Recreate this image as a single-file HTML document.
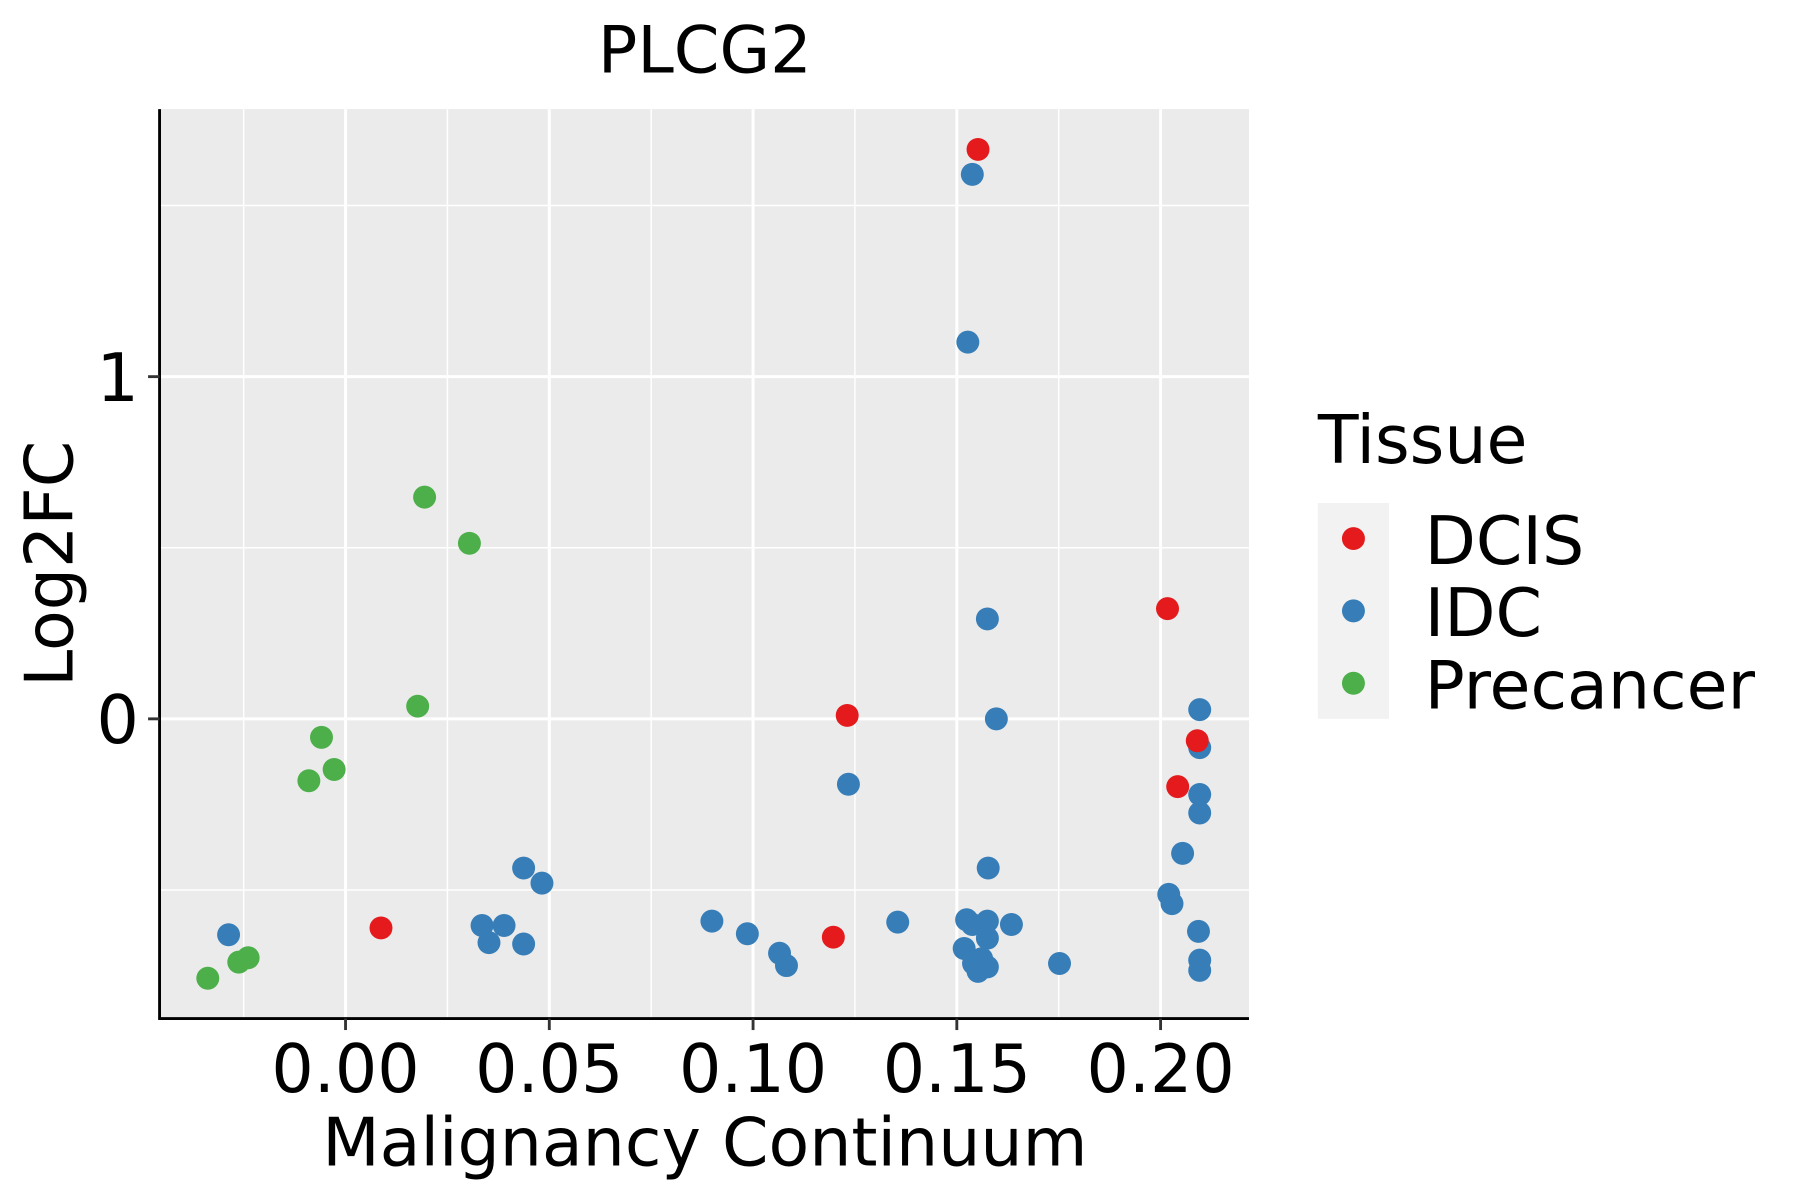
<!DOCTYPE html>
<html><head><meta charset="utf-8"><style>
html,body{margin:0;padding:0;background:#fff;}
svg{display:block;font-family:"DejaVu Sans","Liberation Sans",sans-serif;}
</style></head><body>
<svg id="chart" width="1800" height="1200" viewBox="0 0 1568 1045" preserveAspectRatio="none" xmlns="http://www.w3.org/2000/svg">
<text x="614" y="63" font-size="57" text-anchor="middle">PLCG2</text>
<rect x="140" y="95" width="948" height="792" fill="#EBEBEB"/>
<g id="grid"></g>
<g id="points"></g>
<line x1="139" y1="95" x2="139" y2="888" stroke="#000" stroke-width="2.5"/>
<line x1="138" y1="887" x2="1088" y2="887" stroke="#000" stroke-width="2.5"/>
<g id="ticks"></g>
<text x="614" y="1015" font-size="58" text-anchor="middle">Malignancy Continuum</text>
<text transform="translate(63,491) rotate(-90)" font-size="58" text-anchor="middle">Log2FC</text>
<g>
<text x="1148" y="403" font-size="58">Tissue</text>
<rect x="1148" y="438" width="62" height="188" fill="#F2F2F2"/>
<circle cx="1179" cy="469" r="10" fill="#E41A1C"/>
<circle cx="1179" cy="532" r="10" fill="#377EB8"/>
<circle cx="1179" cy="595" r="10" fill="#4DAF4A"/>
<text x="1241" y="491" font-size="58">DCIS</text>
<text x="1241" y="554" font-size="58">IDC</text>
<text x="1241" y="617" font-size="58">Precancer</text>
</g>
</svg>
<script>
const xTicks=[0,0.05,0.10,0.15,0.20];
const xTickLabels=["0.00","0.05","0.10","0.15","0.20"];
const xMinor=[-0.025,0.025,0.075,0.125,0.175];
const yTicks=[0,1];
const yTickLabels=["0","1"];
const yMinor=[-0.5,0.5,1.5];
const dcisX=[0.1552,0.2017,0.1231,0.2090,0.2042,0.0087,0.1197];
const dcisY=[1.664,0.322,0.010,-0.064,-0.198,-0.611,-0.638];
const idcX=[0.1538,0.1527,0.1575,0.1597,0.2096,0.2096,0.1234,0.2096,0.2096,0.2054,0.1577,0.0437,0.0482,0.2020,0.2028,0.0899,0.1355,0.1524,0.1575,0.1634,0.1538,0.0335,0.0389,0.2093,0.0986,0.1575,-0.0287,0.0352,0.0437,0.1065,0.1518,0.2096,0.1561,0.1541,0.1082,0.1752,0.1575,0.1552,0.2096];
const idcY=[1.591,1.101,0.292,0.000,0.027,-0.084,-0.191,-0.221,-0.275,-0.393,-0.436,-0.436,-0.480,-0.513,-0.540,-0.591,-0.594,-0.587,-0.591,-0.601,-0.601,-0.604,-0.604,-0.621,-0.628,-0.641,-0.631,-0.654,-0.658,-0.685,-0.671,-0.705,-0.701,-0.715,-0.721,-0.715,-0.725,-0.738,-0.735];
const preX=[0.0194,0.0304,0.0177,-0.0059,-0.0028,-0.0090,-0.0239,-0.0262,-0.0338];
const preY=[0.648,0.513,0.037,-0.054,-0.148,-0.181,-0.698,-0.711,-0.758];

const NS="http://www.w3.org/2000/svg";
function sx(v){return 301+v*3550;}
function sy(v){return 626-v*298;}
const grid=document.getElementById('grid');
const ticks=document.getElementById('ticks');
const pts=document.getElementById('points');
function ln(p,x1,y1,x2,y2,w,c,name){const l=document.createElementNS(NS,'line');
l.setAttribute('x1',x1);l.setAttribute('y1',y1);l.setAttribute('x2',x2);l.setAttribute('y2',y2);
l.setAttribute('stroke',c);l.setAttribute('stroke-width',w);


p.appendChild(l);}
xMinor.forEach(v=>ln(grid,sx(v),95,sx(v),887,1.3,'#fff','x-minor-gridline'));
yMinor.forEach(v=>ln(grid,140,sy(v),1088,sy(v),1.3,'#fff','y-minor-gridline'));
xTicks.forEach(v=>ln(grid,sx(v),95,sx(v),887,2.6,'#fff','x-major-gridline'));
yTicks.forEach(v=>ln(grid,140,sy(v),1088,sy(v),2.6,'#fff','y-major-gridline'));
xTicks.forEach((v,i)=>{ln(ticks,sx(v),887,sx(v),897,2.5,'#333','x-tick');
const t=document.createElementNS(NS,'text');t.setAttribute('x',sx(v));t.setAttribute('y',951);
t.setAttribute('font-size','58');t.setAttribute('text-anchor','middle');t.textContent=xTickLabels[i];


ticks.appendChild(t);});
yTicks.forEach((v,i)=>{ln(ticks,129,sy(v),139,sy(v),2.5,'#333','y-tick');
const t=document.createElementNS(NS,'text');t.setAttribute('x',121);t.setAttribute('y',sy(v)+21);
t.setAttribute('font-size','58');t.setAttribute('text-anchor','end');t.textContent=yTickLabels[i];


ticks.appendChild(t);});
function series(xs,ys,color,name){xs.forEach((x,i)=>{const c=document.createElementNS(NS,'circle');
c.setAttribute('cx',sx(x));c.setAttribute('cy',sy(ys[i]));c.setAttribute('r',10);c.setAttribute('fill',color);


pts.appendChild(c);});}
series(preX,preY,'#4DAF4A','point-precancer');
series(idcX,idcY,'#377EB8','point-idc');
series(dcisX,dcisY,'#E41A1C','point-dcis');
</script>
</body></html>
